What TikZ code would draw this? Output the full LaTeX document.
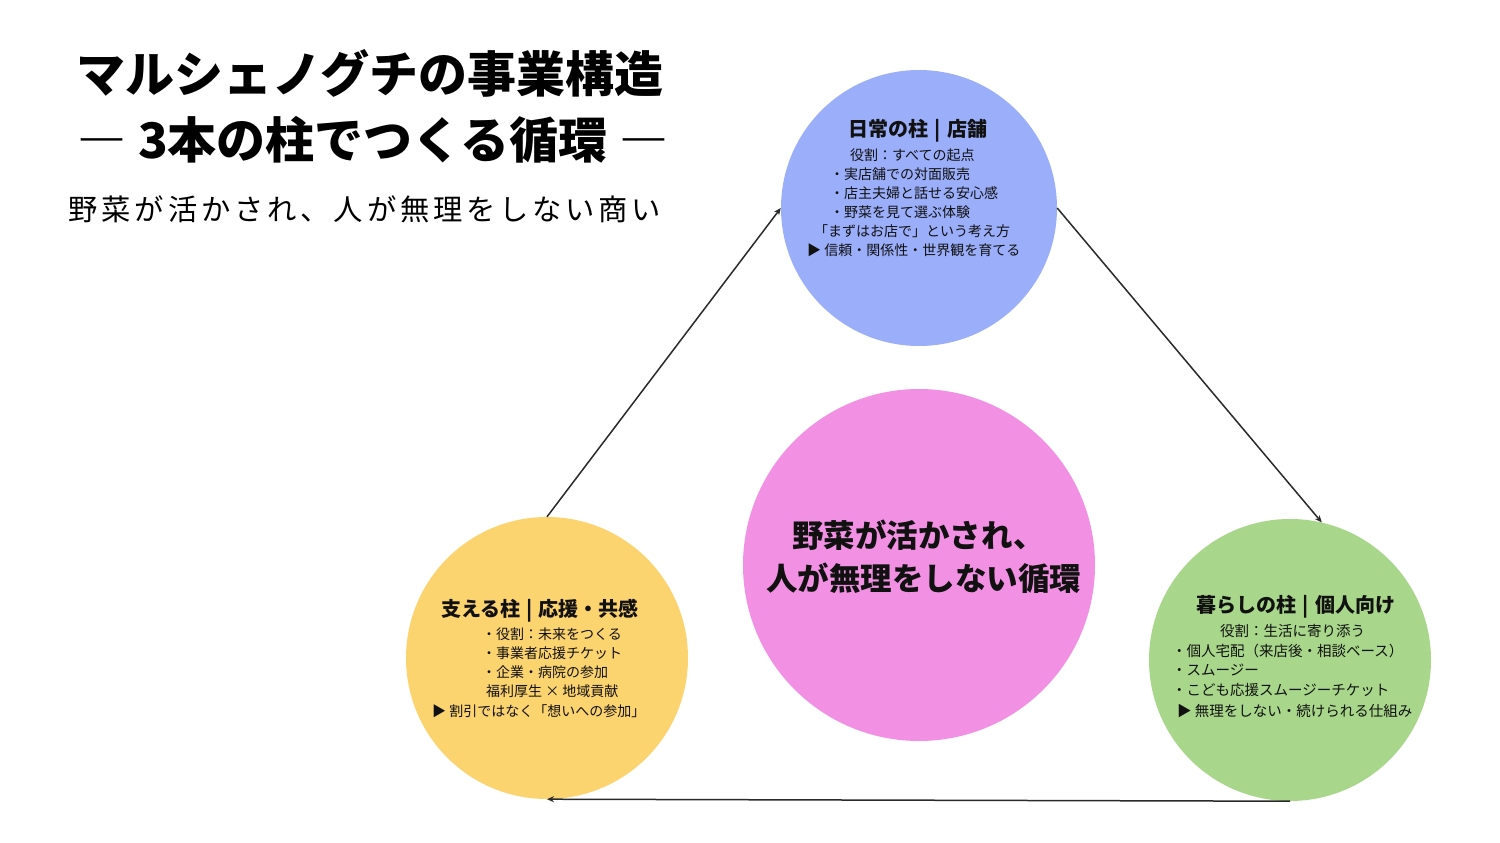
\documentclass[tikz,border=0pt]{standalone}
\usepackage{fontspec}
\setmainfont{Noto Sans CJK JP}
\usetikzlibrary{arrows.meta}
\definecolor{cblue}{HTML}{9BAEFA}
\definecolor{cpink}{HTML}{F291E3}
\definecolor{cyellow}{HTML}{FCD46F}
\definecolor{cgreen}{HTML}{A8D68A}
\definecolor{txt}{HTML}{111111}
\definecolor{arr}{HTML}{2A2A2A}
\newcommand{\pbar}{\hspace{0.3em}|\hspace{0.3em}}
\tikzset{
  pillar/.style={circle, inner sep=0pt, minimum size=#1},
  ptitle/.style={inner sep=0pt, text=txt, font=\fontsize{20}{24}\selectfont\bfseries},
  body/.style={anchor=west, inner sep=0pt, text=txt, font=\fontsize{14}{16}\selectfont},
  bodyr/.style={anchor=west, inner sep=0pt, text=txt, font=\fontsize{14.5}{16}\selectfont},
  ctext/.style={anchor=west, inner sep=0pt, text=txt, font=\fontsize{31.5}{36}\selectfont\bfseries},
  flow/.style={draw=arr, line width=1.5pt, -{Stealth[length=7pt,width=6pt]}},
}
\begin{document}
\begin{tikzpicture}[x=1pt,y=-1pt]
\fill[white] (0,0) rectangle (1500,843);
\useasboundingbox (0,0) rectangle (1500,843);

% titles
\node[inner sep=0pt, font=\fontsize{49}{56}\selectfont\bfseries] (t1) at (370,73) {マルシェノグチの事業構造};
\node[inner sep=0pt, font=\fontsize{49}{56}\selectfont\bfseries] (t2) at (373,140) {― 3本の柱でつくる循環 ―};
\node[inner sep=0pt, font=\fontsize{29.3}{34}\selectfont\addfontfeature{LetterSpace=13}] (t3) at (365,209) {野菜が活かされ、人が無理をしない商い};

% circles
\node[pillar=276pt, fill=cblue] (top) at (919,208) {};
\node[pillar=352pt, fill=cpink] (mid) at (919,565) {};
\node[pillar=282pt, fill=cyellow] (left) at (547,658) {};
\node[pillar=282pt, fill=cgreen] (right) at (1290,660) {};

% connectors
\draw[flow] (left.north) -- (top.west);
\draw[flow] (top.east) -- (right.77);
\draw[flow] (right.south) -- (left.south);

% top pillar text
\node[ptitle] (topT) at (918,131) {日常の柱\pbar 店舗};
\node[body] (top1) at (850,155) {役割：すべての起点};
\node[body] (top2) at (830,174) {・実店舗での対面販売};
\node[body] (top3) at (830,193) {・店主夫婦と話せる安心感};
\node[body] (top4) at (830,212) {・野菜を見て選ぶ体験};
\node[body] (top5) at (814,231) {「まずはお店で」という考え方};
\node[body] (top6) at (807,250) {▶ 信頼・関係性・世界観を育てる};

% left pillar text
\node[ptitle] (leftT) at (540,611) {支える柱\pbar 応援・共感};
\node[body] (left1) at (482,634) {・役割：未来をつくる};
\node[body] (left2) at (482,653) {・事業者応援チケット};
\node[body] (left3) at (482,672) {・企業・病院の参加};
\node[body] (left4) at (486,691) {福利厚生 × 地域貢献};
\node[body] (left5) at (432,711) {▶ 割引ではなく「想いへの参加」};

% right pillar text
\node[ptitle] (rightT) at (1296,607) {暮らしの柱\pbar 個人向け};
\node[bodyr] (right1) at (1220,631) {役割：生活に寄り添う};
\node[bodyr] (right2) at (1172,651) {・個人宅配（来店後・相談ベース）};
\node[bodyr] (right3) at (1172,670) {・スムージー};
\node[bodyr] (right4) at (1172,690) {・こども応援スムージーチケット};
\node[bodyr] (right5) at (1177,711) {▶ 無理をしない・続けられる仕組み};

% centre text
\node[ctext] (mid1) at (792,535) {野菜が活かされ、};
\node[ctext] (mid2) at (766,578) {人が無理をしない循環};
\end{tikzpicture}
\end{document}
